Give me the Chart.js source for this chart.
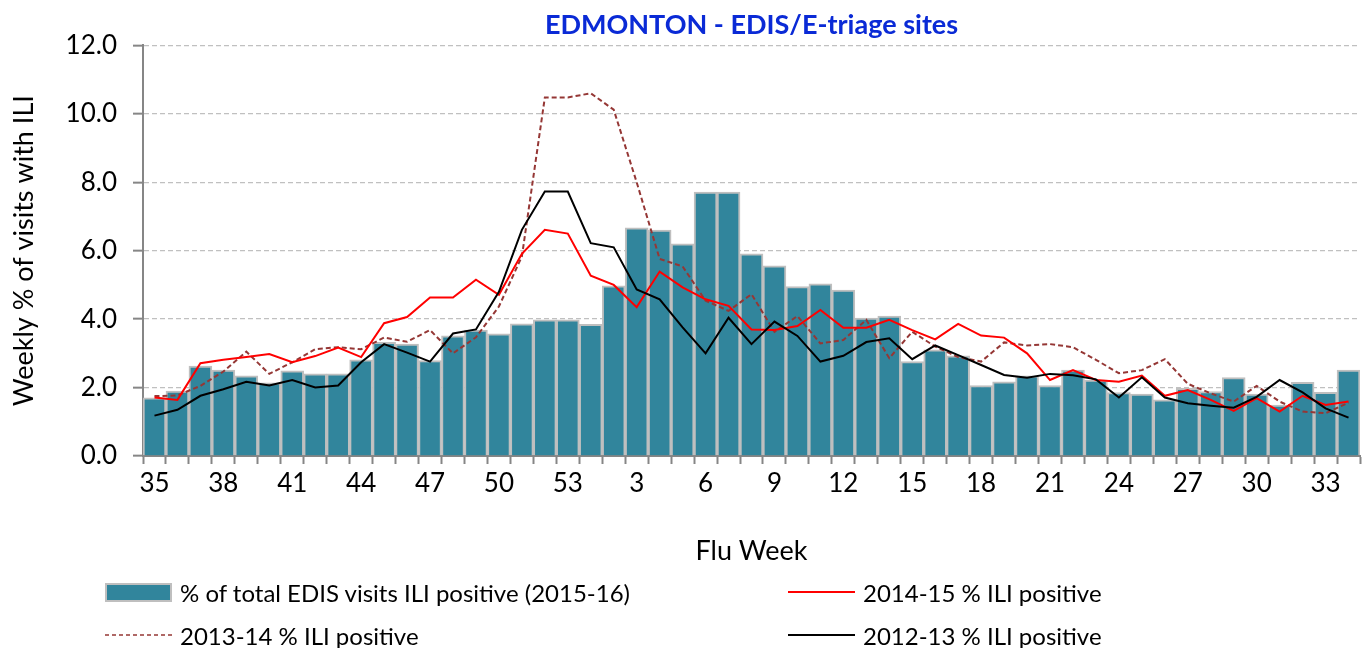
<!doctype html>
<html>
<head>
<title>EDMONTON - EDIS/E-triage sites</title>
<script src="https://cdn.jsdelivr.net/npm/chart.js@4.4.0/dist/chart.umd.min.js"></script>
<style>
body { margin: 0; background: #fff; }
#holder { position: relative; width: 1364px; height: 648px; }
#legend { position: absolute; left: 0; top: 0; width: 1364px; height: 648px; pointer-events: none;
  font-family: Lato, "Liberation Sans", sans-serif; font-size: 24px; color: #000; }
.item { position: absolute; height: 28px; display: flex; align-items: center; white-space: nowrap; }
.item .sw { width: 67px; margin-right: 8px; }
</style>
</head>
<body>
<div id="holder">
  <canvas id="chart-area" width="1364" height="648"></canvas>
  <div id="legend"></div>
</div>
<script>
// flu weeks, season runs 35..53 then 1..34
var weeks = [35, 36, 37, 38, 39, 40, 41, 42, 43, 44, 45, 46, 47, 48, 49, 50, 51, 52, 53,
  1, 2, 3, 4, 5, 6, 7, 8, 9, 10, 11, 12, 13, 14, 15, 16, 17, 18, 19, 20,
  21, 22, 23, 24, 25, 26, 27, 28, 29, 30, 31, 32, 33, 34];

var yTicks = [0, 2, 4, 6, 8, 10, 12];

// % of total EDIS visits ILI positive (2015-16)
var ili1516 = [1.70, 1.90, 2.63, 2.51, 2.34, 2.14, 2.49, 2.40, 2.40, 2.81, 3.32, 3.27, 2.79, 3.51, 3.68, 3.57, 3.86, 3.98, 3.98,
  3.85, 4.97, 6.67, 6.60, 6.20, 7.71, 7.71, 5.91, 5.56, 4.95, 5.03, 4.85, 4.03, 4.09, 2.76, 3.10, 2.93, 2.06, 2.17, 2.34,
  2.06, 2.51, 2.22, 1.85, 1.81, 1.64, 1.98, 1.88, 2.29, 1.81, 1.49, 2.15, 1.86, 2.51];

var ili1415 = [1.71, 1.64, 2.71, 2.81, 2.89, 2.98, 2.74, 2.92, 3.17, 2.89, 3.88, 4.06, 4.63, 4.63, 5.15, 4.71, 5.91, 6.61, 6.50,
  5.27, 5.00, 4.35, 5.39, 4.93, 4.58, 4.39, 3.70, 3.68, 3.80, 4.27, 3.75, 3.75, 3.98, 3.68, 3.41, 3.86, 3.52, 3.46, 3.00,
  2.22, 2.51, 2.22, 2.17, 2.35, 1.76, 1.93, 1.64, 1.32, 1.69, 1.30, 1.76, 1.49, 1.59];

var ili1314 = [1.75, 1.77, 2.05, 2.47, 3.05, 2.40, 2.74, 3.12, 3.18, 3.12, 3.46, 3.34, 3.68, 3.00, 3.47, 4.37, 5.83, 10.48, 10.48,
  10.60, 10.12, 8.00, 5.76, 5.54, 4.54, 4.24, 4.73, 3.63, 4.09, 3.29, 3.39, 3.98, 2.86, 3.63, 3.20, 2.89, 2.76, 3.32, 3.23,
  3.27, 3.18, 2.81, 2.42, 2.51, 2.83, 2.11, 1.83, 1.59, 2.05, 1.59, 1.30, 1.25, 1.56];

var ili1213 = [1.18, 1.35, 1.76, 1.95, 2.17, 2.06, 2.22, 2.00, 2.06, 2.74, 3.27, 3.02, 2.76, 3.58, 3.70, 4.80, 6.61, 7.73, 7.73,
  6.22, 6.10, 4.87, 4.58, 3.76, 3.00, 4.04, 3.27, 3.93, 3.51, 2.76, 2.93, 3.33, 3.44, 2.83, 3.23, 2.95, 2.66, 2.37, 2.29,
  2.40, 2.36, 2.24, 1.71, 2.30, 1.71, 1.54, 1.47, 1.41, 1.73, 2.22, 1.86, 1.39, 1.12];

var FONT = 'Lato, "Liberation Sans", sans-serif';

var config = {
  data: {
    labels: weeks,
    datasets: [{
      type: 'bar',
      label: '% of total EDIS visits ILI positive (2015-16)',
      data: ili1516,
      backgroundColor: '#31859c',
      borderColor: '#bfbfbf',
      borderWidth: 2,
      categoryPercentage: 1,
      barPercentage: 1,
      order: 4
    }, {
      type: 'line',
      label: '2014-15 % ILI positive',
      data: ili1415,
      borderColor: '#ff0000',
      borderWidth: 2,
      pointRadius: 0,
      tension: 0,
      fill: false,
      order: 2
    }, {
      type: 'line',
      label: '2013-14 % ILI positive',
      data: ili1314,
      borderColor: '#953735',
      borderWidth: 2,
      borderDash: [5, 3],
      pointRadius: 0,
      tension: 0,
      fill: false,
      order: 3
    }, {
      type: 'line',
      label: '2012-13 % ILI positive',
      data: ili1213,
      borderColor: '#000000',
      borderWidth: 2,
      pointRadius: 0,
      tension: 0,
      fill: false,
      order: 1
    }]
  },
  options: {
    responsive: false,
    animation: false,
    devicePixelRatio: 1,
    layout: { padding: { left: 0, right: 4, top: 0, bottom: 78 } },
    plugins: {
      legend: { display: false },
      tooltip: { enabled: false },
      title: {
        display: true,
        fullSize: false,
        text: 'EDMONTON - EDIS/E-triage sites',
        color: '#0a2ad6',
        font: { family: FONT, size: 27, weight: 'bold' },
        padding: { top: 9, bottom: 4 }
      }
    },
    scales: {
      x: {
        offset: true,
        ticks: {
          autoSkip: false,
          maxRotation: 0,
          color: '#000',
          padding: 4,
          font: { family: FONT, size: 26 },
          callback: function(v, i) { return i % 3 === 0 ? String(weeks[i]) : ''; }
        },
        grid: { drawOnChartArea: false, tickColor: '#868686', tickLength: 8, tickWidth: 2 },
        border: { color: '#868686', width: 2 },
        title: { display: true, text: 'Flu Week', color: '#000', font: { family: FONT, size: 27 }, padding: { top: 0, bottom: 3 } },
        afterFit: function(s) { s.height = 114; }
      },
      y: {
        min: 0,
        max: 12,
        afterBuildTicks: function(s) { s.ticks = yTicks.map(function(v) { return { value: v }; }); },
        ticks: {
          color: '#000',
          padding: 16,
          font: { family: FONT, size: 26 },
          callback: function(v) { return Number(v).toFixed(1); }
        },
        grid: { color: '#c0c0c0', lineWidth: 1.3, tickColor: '#868686', tickLength: 10, tickWidth: 2 },
        border: { color: '#868686', width: 2, dash: [5, 3] },
        title: { display: true, text: 'Weekly % of visits with ILI', color: '#000', font: { family: FONT, size: 27 }, padding: { top: 8, bottom: 0 } },
        afterFit: function(s) { s.width = 143; }
      }
    }
  }
};

// legend slots (left edge of swatch, vertical centre)
var legendSlots = [[105, 592], [788, 592], [105, 635], [788, 635]];

function buildLegend(chart) {
  var box = document.getElementById('legend');
  chart.data.datasets.forEach(function(ds, i) {
    var item = document.createElement('div');
    item.className = 'item';
    item.style.left = legendSlots[i][0] + 'px';
    item.style.top = (legendSlots[i][1] - 14) + 'px';
    var sw;
    if (ds.type === 'bar') {
      sw = document.createElement('div');
      sw.className = 'sw';
      sw.style.height = '19px';
      sw.style.boxSizing = 'border-box';
      sw.style.background = ds.backgroundColor;
      sw.style.border = '2px solid ' + ds.borderColor;
    } else {
      sw = document.createElementNS('http://www.w3.org/2000/svg', 'svg');
      sw.setAttribute('class', 'sw');
      sw.setAttribute('width', '67');
      sw.setAttribute('height', '4');
      var ln = document.createElementNS('http://www.w3.org/2000/svg', 'line');
      ln.setAttribute('x1', 0); ln.setAttribute('y1', 2);
      ln.setAttribute('x2', 67); ln.setAttribute('y2', 2);
      ln.setAttribute('stroke', ds.borderColor);
      ln.setAttribute('stroke-width', ds.borderDash ? 1.5 : 2);
      if (ds.borderDash) ln.setAttribute('stroke-dasharray', '4 3');
      sw.appendChild(ln);
    }
    item.appendChild(sw);
    var txt = document.createElement('span');
    txt.textContent = ds.label;
    item.appendChild(txt);
    box.appendChild(item);
  });
}

window.onload = function() {
  var ctx = document.getElementById('chart-area').getContext('2d');
  window.myChart = new Chart(ctx, config);
  buildLegend(window.myChart);
};
</script>
</body>
</html>
